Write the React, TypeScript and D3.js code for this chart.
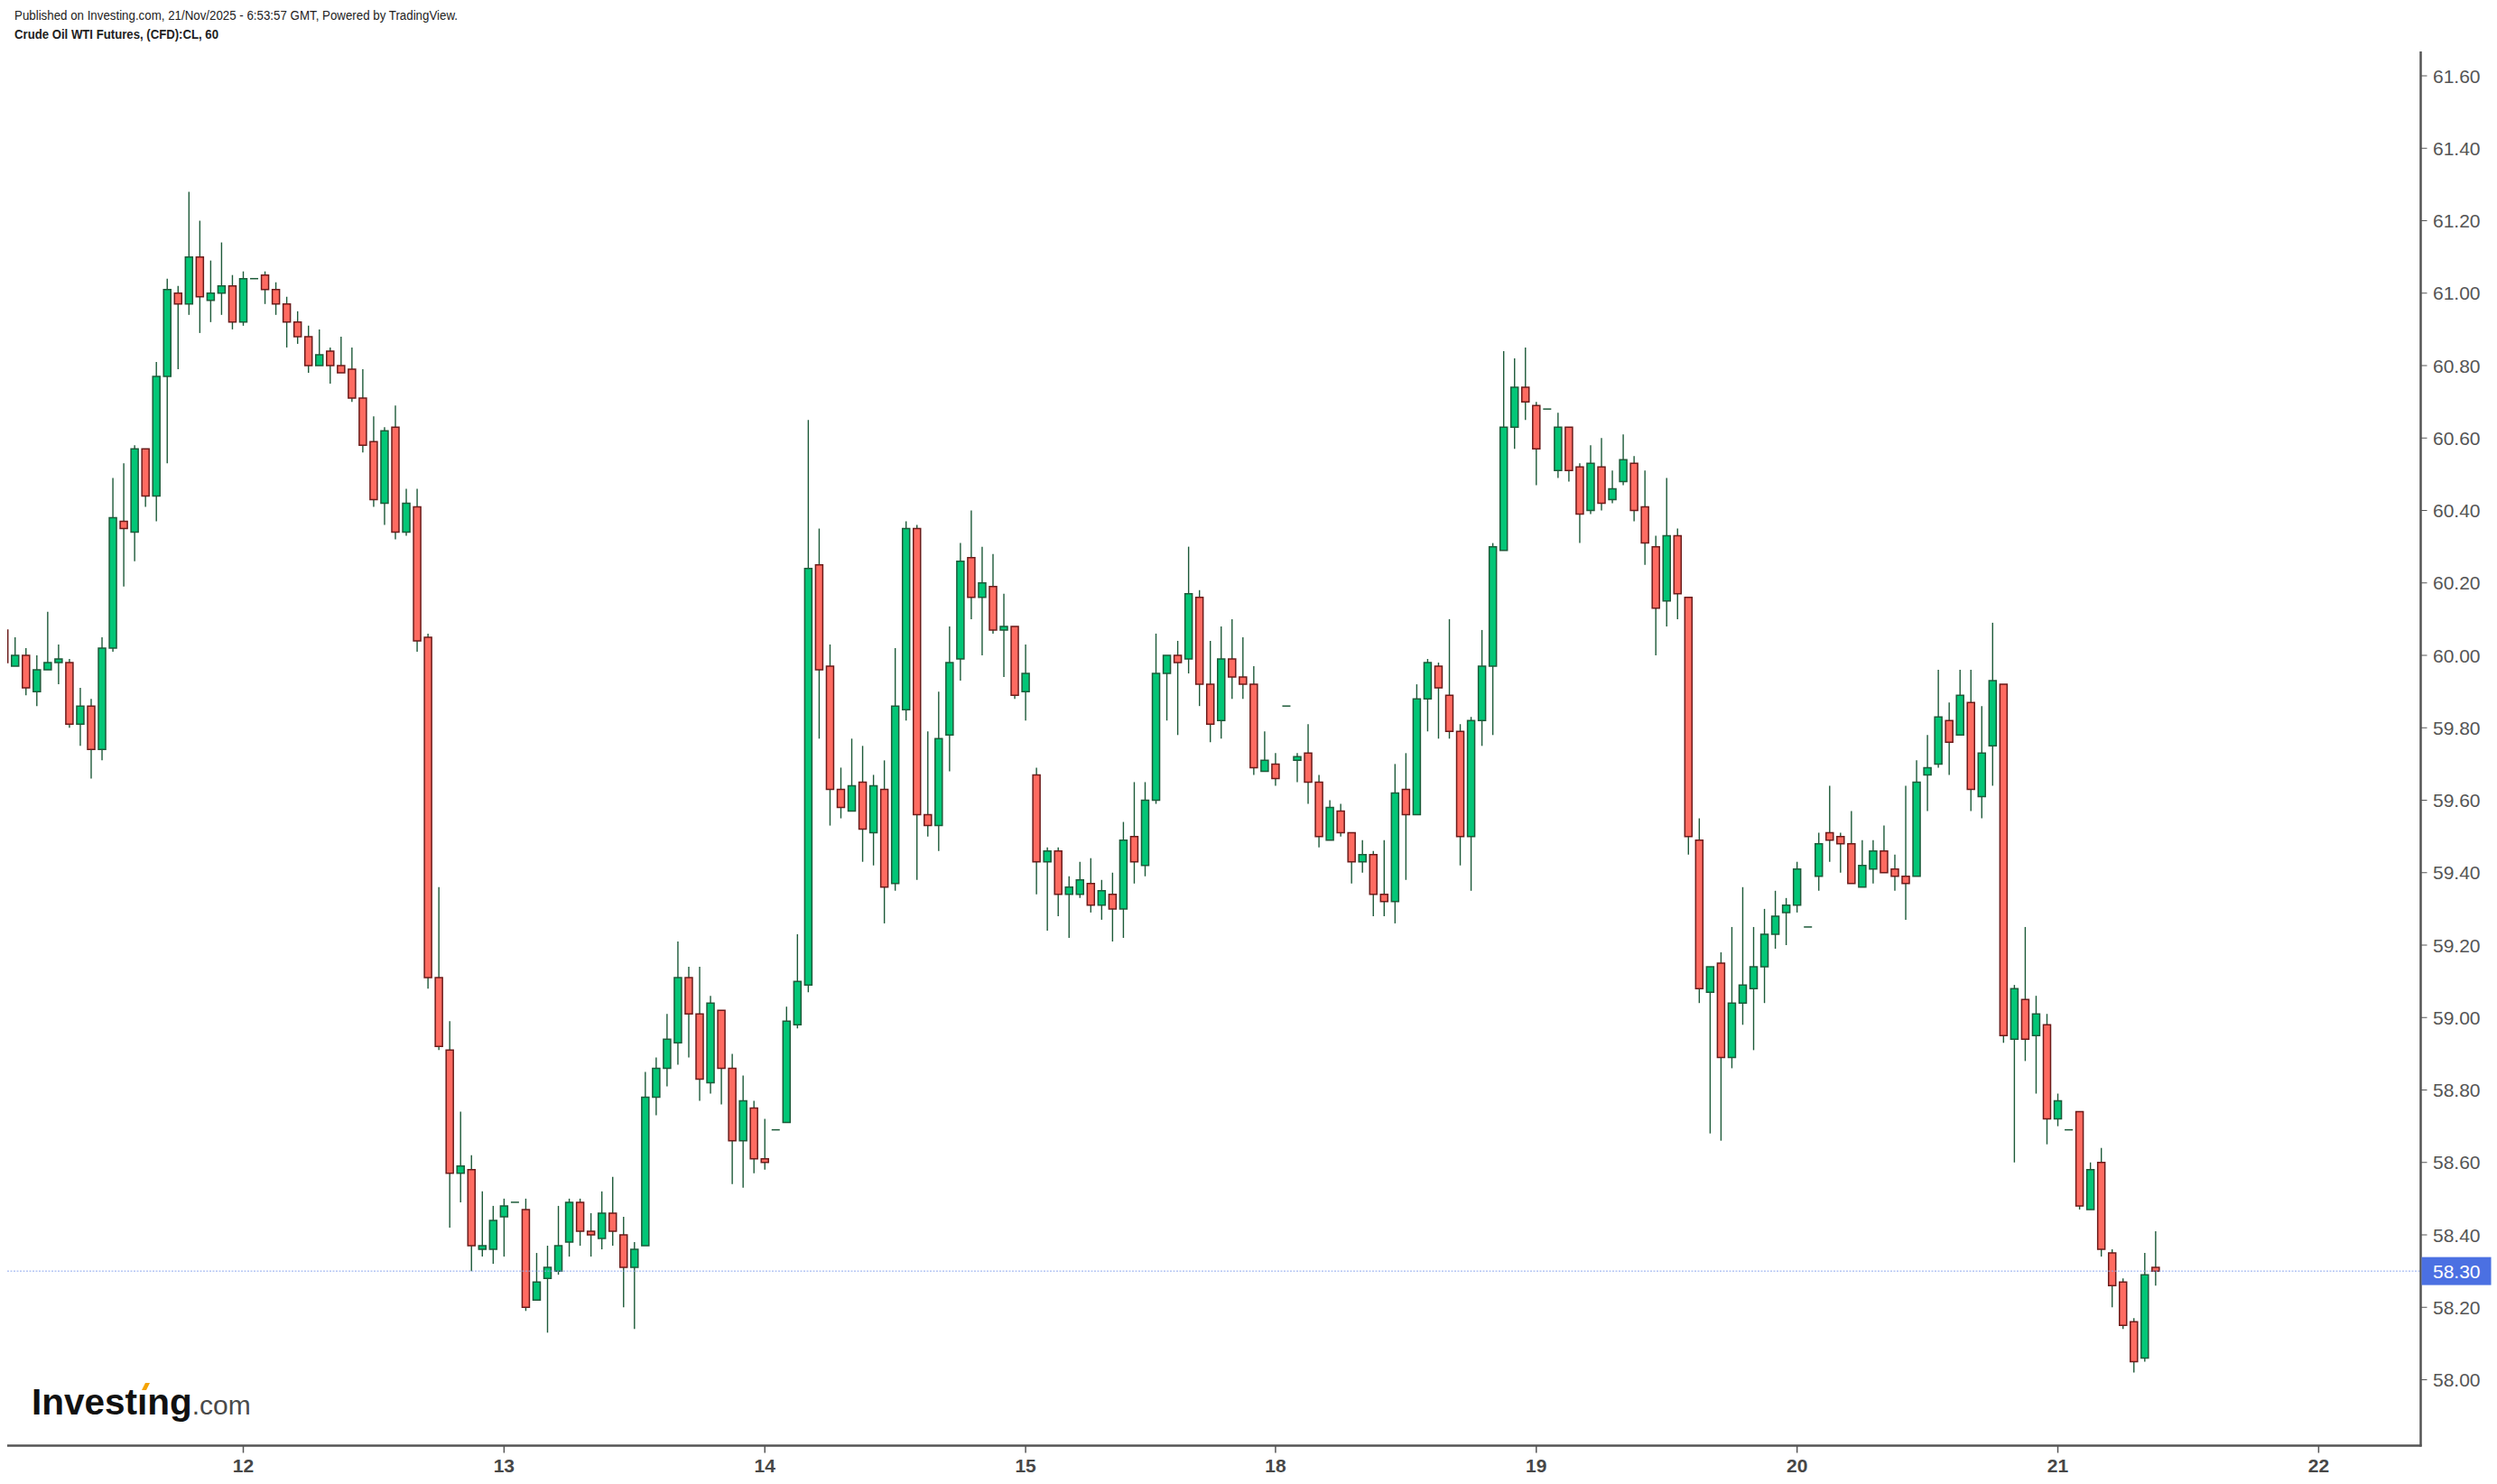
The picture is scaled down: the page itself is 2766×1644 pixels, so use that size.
import React, { useEffect } from "react";
import * as d3 from "d3";

const opens = [60.07,59.97,60.00,59.90,59.96,59.98,59.98,59.81,59.86,59.74,
60.02,60.37,60.34,60.57,60.44,60.77,61.00,60.97,61.10,60.98,
61.00,61.02,60.92,61.04,61.05,61.01,60.97,60.92,60.88,60.80,
60.84,60.80,60.79,60.71,60.59,60.42,60.63,60.34,60.41,60.05,
59.11,58.91,58.57,58.58,58.36,58.36,58.45,58.49,58.47,58.22,
58.28,58.30,58.38,58.49,58.41,58.39,58.46,58.40,58.31,58.37,
58.78,58.86,58.93,59.11,59.01,58.82,59.02,58.86,58.66,58.75,
58.61,58.69,58.71,58.98,59.09,60.25,59.97,59.63,59.57,59.65,
59.51,59.63,59.37,59.85,60.35,59.56,59.53,59.78,59.99,60.27,
60.16,60.19,60.07,60.08,59.90,59.67,59.43,59.46,59.34,59.34,
59.37,59.31,59.34,59.30,59.50,59.42,59.60,59.95,60.00,59.99,
60.16,59.92,59.82,59.99,59.94,59.92,59.68,59.70,59.86,59.71,
59.73,59.65,59.49,59.57,59.51,59.43,59.45,59.34,59.32,59.63,
59.56,59.88,59.97,59.89,59.79,59.50,59.82,59.97,60.29,60.63,
60.74,60.69,60.68,60.51,60.63,60.52,60.40,60.52,60.43,60.48,
60.53,60.41,60.30,60.15,60.33,60.16,59.49,59.07,59.15,58.89,
59.04,59.08,59.14,59.23,59.29,59.31,59.25,59.39,59.51,59.50,
59.48,59.36,59.41,59.46,59.41,59.39,59.39,59.67,59.70,59.82,
59.78,59.87,59.61,59.75,59.92,58.94,59.05,58.95,58.98,58.72,
58.69,58.74,58.47,58.60,58.35,58.27,58.16,58.06,58.31];

const highs = [60.08,60.05,60.02,60.00,60.12,60.03,59.99,59.91,59.88,60.05,
60.49,60.53,60.58,60.57,60.81,61.04,61.02,61.28,61.20,61.09,
61.14,61.05,61.06,61.04,61.06,61.03,60.99,60.95,60.91,60.90,
60.85,60.88,60.85,60.79,60.66,60.63,60.69,60.46,60.46,60.06,
59.36,58.99,58.74,58.62,58.52,58.48,58.50,58.49,58.50,58.35,
58.37,58.48,58.50,58.50,58.46,58.52,58.56,58.45,58.38,58.85,
58.89,59.01,59.21,59.14,59.14,59.06,59.02,58.90,58.84,58.77,
58.72,58.69,59.03,59.23,60.65,60.35,60.03,59.69,59.77,59.75,
59.67,59.71,60.02,60.37,60.36,59.79,59.90,60.08,60.31,60.40,
60.30,60.28,60.17,60.08,60.03,59.69,59.47,59.47,59.39,59.43,
59.44,59.38,59.40,59.54,59.65,59.65,60.06,60.00,60.04,60.30,
60.18,60.04,60.08,60.10,60.05,59.97,59.79,59.73,59.86,59.73,
59.81,59.67,59.60,59.59,59.51,59.49,59.46,59.49,59.70,59.73,
59.92,59.99,59.98,60.10,59.81,59.83,60.07,60.31,60.84,60.82,
60.85,60.70,60.68,60.67,60.63,60.53,60.58,60.60,60.51,60.61,
60.55,60.51,60.33,60.49,60.35,60.16,59.55,59.14,59.18,59.25,
59.36,59.25,59.30,59.35,59.33,59.43,59.25,59.51,59.64,59.51,
59.57,59.49,59.49,59.53,59.45,59.64,59.71,59.78,59.96,59.87,
59.96,59.96,59.86,60.09,59.92,59.09,59.25,59.06,59.01,58.79,
58.69,58.74,58.60,58.64,58.36,58.28,58.17,58.35,58.41];

const lows = [59.97,59.97,59.89,59.86,59.96,59.92,59.80,59.75,59.66,59.71,
60.01,60.19,60.26,60.41,60.37,60.53,60.79,60.94,60.89,60.92,
60.94,60.90,60.91,61.04,60.97,60.94,60.85,60.86,60.78,60.80,
60.75,60.78,60.70,60.56,60.41,60.36,60.32,60.33,60.01,59.08,
58.91,58.42,58.49,58.30,58.34,58.32,58.34,58.49,58.19,58.22,
58.13,58.29,58.34,58.37,58.34,58.36,58.37,58.20,58.14,58.37,
58.73,58.81,58.87,58.89,58.77,58.79,58.76,58.54,58.53,58.57,
58.58,58.69,58.71,58.97,59.07,59.77,59.53,59.55,59.57,59.43,
59.42,59.26,59.35,59.82,59.38,59.50,59.46,59.68,59.93,60.10,
60.00,60.06,59.94,59.88,59.82,59.34,59.24,59.28,59.22,59.33,
59.29,59.27,59.21,59.22,59.37,59.39,59.59,59.82,59.78,59.95,
59.86,59.76,59.77,59.88,59.88,59.67,59.68,59.64,59.86,59.65,
59.59,59.47,59.49,59.50,59.37,59.40,59.28,59.28,59.26,59.38,
59.56,59.79,59.77,59.77,59.42,59.35,59.75,59.78,60.29,60.57,
60.65,60.47,60.68,60.49,60.48,60.31,60.39,60.40,60.42,60.47,
60.37,60.25,60.00,60.08,60.10,59.45,59.04,58.68,58.66,58.86,
58.98,58.91,59.04,59.19,59.20,59.29,59.25,59.35,59.43,59.40,
59.37,59.36,59.37,59.40,59.35,59.27,59.39,59.57,59.69,59.67,
59.78,59.57,59.55,59.64,58.93,58.60,58.88,58.79,58.65,58.70,
58.69,58.47,58.47,58.34,58.20,58.14,58.02,58.05,58.26];

const closes = [59.98,60.00,59.91,59.96,59.98,59.99,59.81,59.86,59.74,60.02,
60.38,60.35,60.57,60.44,60.77,61.01,60.97,61.10,60.99,61.00,
61.02,60.92,61.04,61.04,61.01,60.97,60.92,60.88,60.80,60.83,
60.80,60.78,60.71,60.58,60.43,60.62,60.34,60.42,60.04,59.11,
58.92,58.57,58.59,58.37,58.37,58.44,58.48,58.49,58.20,58.27,
58.31,58.37,58.49,58.41,58.40,58.46,58.41,58.31,58.36,58.78,
58.86,58.94,59.11,59.01,58.83,59.04,58.86,58.66,58.77,58.61,
58.60,58.69,58.99,59.10,60.24,59.96,59.63,59.58,59.64,59.52,
59.64,59.36,59.86,60.35,59.56,59.53,59.77,59.98,60.26,60.16,
60.20,60.07,60.08,59.89,59.95,59.43,59.46,59.34,59.36,59.38,
59.31,59.35,59.30,59.49,59.43,59.60,59.95,60.00,59.98,60.17,
59.92,59.81,59.99,59.94,59.92,59.69,59.71,59.66,59.86,59.72,
59.65,59.50,59.58,59.51,59.43,59.45,59.34,59.32,59.62,59.56,
59.88,59.98,59.91,59.79,59.50,59.82,59.97,60.30,60.63,60.74,
60.70,60.57,60.68,60.63,60.51,60.39,60.53,60.42,60.46,60.54,
60.40,60.31,60.13,60.33,60.17,59.50,59.08,59.14,58.89,59.04,
59.09,59.14,59.23,59.28,59.31,59.41,59.25,59.48,59.49,59.48,
59.37,59.42,59.46,59.40,59.39,59.37,59.65,59.69,59.83,59.76,
59.89,59.63,59.73,59.93,58.95,59.08,58.94,59.01,58.72,58.77,
58.69,58.48,58.58,58.36,58.26,58.15,58.05,58.29,58.30];

const dayTickIndex = [22, 46, 70, 94, 117, 141, 165, 189, 213];
const dayTickLabels = ["12", "13", "14", "15", "18", "19", "20", "21", "22"];
const priceTicks = [58.0, 58.2, 58.4, 58.6, 58.8, 59.0, 59.2, 59.4, 59.6, 59.8, 60.0, 60.2, 60.4, 60.6, 60.8, 61.0, 61.2, 61.4, 61.6];
const lastPrice = 58.30;

const W = 2766;
const H = 1644;
const AXIS_X = 2681.5;
const AXIS_Y = 1601.5;
const PLOT_LEFT = 8;

const GREEN_FILL = "#03c677";
const GREEN_EDGE = "#1d5a39";
const RED_FILL = "#ff6b61";
const RED_EDGE = "#6b1b1a";

export default function App() {
  useEffect(() => {
    document.body.style.margin = "0";
    document.body.style.overflow = "hidden";
  }, []);

  const x = d3.scaleLinear().domain([0, 213]).range([4.7, 2568.4]);
  const y = d3.scaleLinear().domain([58, 61.6]).range([1528.5, 84]);
  const bodyW = 8;

  const candles = opens.map((o, i) => ({ o, h: highs[i], l: lows[i], c: closes[i], i }));

  return (
    <svg width={W} height={H} viewBox={`0 0 ${W} ${H}`} style={{ position: "absolute", left: 0, top: 0, display: "block", background: "#fff" }}>
      <defs>
        <clipPath id="plotClip">
          <rect x={PLOT_LEFT} y={40} width={AXIS_X - PLOT_LEFT - 1} height={AXIS_Y - 41} />
        </clipPath>
      </defs>
      <rect x={0} y={0} width={W} height={H} fill="#ffffff" />

      {/* header */}
      <text x={16} y={21.5} fontFamily="'Liberation Sans', Arial, sans-serif" fontSize={14} fill="#222" textLength={491} lengthAdjust="spacingAndGlyphs">
        Published on Investing.com, 21/Nov/2025 - 6:53:57 GMT, Powered by TradingView.
      </text>
      <text x={16} y={43} fontFamily="'Liberation Sans', Arial, sans-serif" fontSize={14} fontWeight="bold" fill="#222" textLength={226} lengthAdjust="spacingAndGlyphs">
        Crude Oil WTI Futures, (CFD):CL, 60
      </text>

      {/* candles */}
      <g clipPath="url(#plotClip)">
        {candles.map((d) => {
          const up = d.c >= d.o;
          const cx = x(d.i);
          const yTop = y(Math.max(d.o, d.c));
          const yBot = y(Math.min(d.o, d.c));
          const flat = d.h === d.l;
          if (flat) {
            return (
              <line key={d.i} x1={cx - bodyW / 2 - 0.5} x2={cx + bodyW / 2 + 0.5} y1={y(d.c)} y2={y(d.c)} stroke={GREEN_EDGE} strokeWidth={1.5} />
            );
          }
          return (
            <g key={d.i}>
              <line x1={cx} x2={cx} y1={y(d.h)} y2={y(d.l)} stroke={GREEN_EDGE} strokeWidth={1.4} />
              <path
                d={`M${cx - bodyW / 2},${yTop} H${cx + bodyW / 2} V${yBot} H${cx - bodyW / 2} Z`}
                fill={up ? GREEN_FILL : RED_FILL}
                stroke={up ? GREEN_EDGE : RED_EDGE}
                strokeWidth={1.5}
              />
            </g>
          );
        })}
      </g>

      {/* last price line */}
      <line x1={PLOT_LEFT} x2={AXIS_X} y1={y(lastPrice)} y2={y(lastPrice)} stroke="#8ea8ee" strokeWidth={1} strokeDasharray="2,1.5" />

      {/* bottom axis */}
      <line x1={PLOT_LEFT} x2={AXIS_X + 1} y1={AXIS_Y} y2={AXIS_Y} stroke="#555" strokeWidth={2.5} />
      {dayTickIndex.map((ti, k) => (
        <g key={ti}>
          <line x1={x(ti)} x2={x(ti)} y1={AXIS_Y} y2={AXIS_Y + 8} stroke="#555" strokeWidth={1.5} />
          <text x={x(ti)} y={1631} textAnchor="middle" fontFamily="'Liberation Sans', Arial, sans-serif" fontSize={21} fontWeight="bold" fill="#474747">
            {dayTickLabels[k]}
          </text>
        </g>
      ))}

      {/* right axis */}
      <line x1={AXIS_X} x2={AXIS_X} y1={57} y2={AXIS_Y + 1} stroke="#555" strokeWidth={2.5} />
      {priceTicks.map((p) => (
        <g key={p}>
          <line x1={AXIS_X} x2={AXIS_X + 7} y1={y(p)} y2={y(p)} stroke="#555" strokeWidth={1} />
          <text x={2695} y={y(p)} dy="0.36em" fontFamily="'Liberation Sans', Arial, sans-serif" fontSize={21} fill="#555">
            {p.toFixed(2)}
          </text>
        </g>
      ))}

      {/* last price label */}
      <rect x={AXIS_X + 1} y={y(lastPrice) - 15.5} width={77} height={31} fill="#4b70e2" />
      <text x={2695} y={y(lastPrice)} dy="0.36em" fontFamily="'Liberation Sans', Arial, sans-serif" fontSize={21} fill="#ffffff">
        {lastPrice.toFixed(2)}
      </text>

      {/* logo */}
      <text x={35} y={1567} fontFamily="'Liberation Sans', Arial, sans-serif" fontSize={40.5} fontWeight="bold" fill="#111">
        Investıng
        <tspan fontWeight="normal" fontSize={30} fill="#4a4a4a">.com</tspan>
      </text>
      <polygon points="157,1540 161,1532 166,1532 162,1540" fill="#f5a300" />
    </svg>
  );
}
